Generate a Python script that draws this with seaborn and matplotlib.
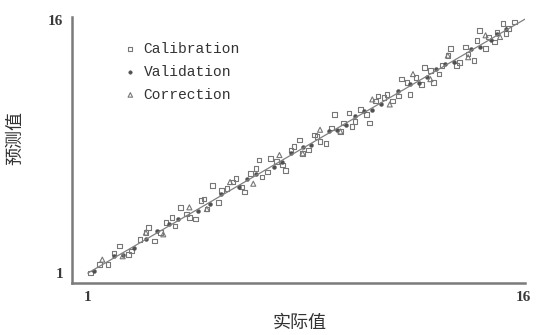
import matplotlib
matplotlib.use("Agg")
import matplotlib.pyplot as plt
import seaborn as sns

# Actual vs. predicted values for the three sample sets
cal_actual = [1.1, 1.4, 1.7, 1.9, 2.1, 2.4, 2.5, 2.8, 3.0, 3.1, 3.3, 3.5, 3.7, 3.9, 4.0, 4.2,
              4.4, 4.5, 4.7, 4.9, 5.0, 5.1, 5.3, 5.5, 5.6, 5.8, 6.0, 6.1, 6.3, 6.4, 6.6, 6.8,
              6.9, 7.0, 7.2, 7.3, 7.5, 7.7, 7.8, 8.0, 8.1, 8.3, 8.4, 8.6, 8.8, 8.9, 9.0, 9.2,
              9.4, 9.5, 9.7, 9.8, 10.0, 10.1, 10.2, 10.4, 10.6, 10.7, 10.9, 11.0, 11.2, 11.3,
              11.5, 11.7, 11.8, 12.0, 12.1, 12.3, 12.5, 12.6, 12.8, 12.9, 13.1, 13.2, 13.4,
              13.5, 13.7, 13.8, 14.0, 14.1, 14.3, 14.4, 14.5, 14.7, 14.8, 15.0, 15.1, 15.3,
              15.4, 15.5, 15.7]
cal_pred = [1.0, 1.5, 1.5, 2.2, 2.6, 2.1, 2.3, 3.0, 3.4, 3.7, 2.9, 3.4, 4.0, 4.3, 3.8, 4.9,
            4.5, 4.3, 4.2, 5.3, 5.4, 4.8, 6.2, 5.2, 5.9, 6.0, 6.4, 6.6, 6.1, 5.8, 6.9, 7.2,
            7.7, 6.7, 7.0, 7.8, 7.6, 7.4, 7.1, 8.3, 8.5, 8.9, 8.1, 8.3, 9.2, 9.1, 8.8, 8.7,
            9.6, 10.4, 9.4, 9.9, 10.5, 9.7, 10.0, 10.7, 10.4, 9.9, 11.2, 11.5, 11.4, 11.6,
            11.2, 11.5, 12.5, 12.3, 11.6, 12.6, 12.2, 13.2, 13.0, 12.3, 12.8, 13.3, 13.9,
            14.3, 13.3, 13.5, 14.4, 14.0, 13.6, 14.8, 15.4, 14.3, 15.0, 14.7, 15.3, 15.8,
            15.2, 15.5, 15.9]

val_actual = [1.2, 1.9, 2.2, 2.6, 3.0, 3.4, 3.8, 4.1, 4.8, 5.2, 5.6, 6.2, 6.5, 6.8, 7.4,
              7.7, 8.0, 8.4, 8.7, 9.3, 9.6, 9.9, 10.2, 10.5, 10.8, 11.1, 11.7, 12.1, 12.4,
              12.7, 13.0, 13.3, 13.6, 14.2, 14.5, 14.9, 15.1, 15.4]
val_pred = [1.1, 2.0, 2.1, 2.5, 3.0, 3.5, 3.9, 4.2, 4.7, 5.1, 5.7, 6.1, 6.6, 6.9, 7.3,
            7.6, 8.1, 8.5, 8.6, 9.4, 9.5, 9.8, 10.3, 10.6, 10.7, 11.0, 11.8, 12.2, 12.3,
            12.6, 13.1, 13.4, 13.5, 14.3, 14.4, 14.8, 15.2, 15.5]

cor_actual = [1.5, 2.2, 3.0, 3.6, 4.5, 5.1, 5.9, 6.7, 7.6, 8.4, 9.0, 9.7, 10.8, 11.4, 12.2,
              12.8, 13.4, 14.1, 14.7, 15.2]
cor_pred = [1.8, 2.0, 3.4, 3.3, 4.9, 4.8, 6.4, 6.3, 8.0, 8.1, 9.5, 9.4, 11.3, 11.0, 12.8,
            12.5, 13.9, 13.8, 15.1, 15.0]

series_names = ["Calibration", "Validation", "Correction"]
tick_values = [1, 16]
x_label = "实际值"
y_label = "预测值"

sns.set_theme(style="white")
plt.rcParams["font.family"] = ["Noto Sans CJK SC", "DejaVu Sans"]

fig = plt.figure(figsize=(5.36, 3.35), dpi=100)
ax = fig.add_axes([0.134, 0.155, 0.845, 0.794])

grey = "#777777"

# 1:1 reference line
sns.lineplot(x=[1.0, 16.15], y=[1.0, 16.15], ax=ax, color="#808080", linewidth=0.9)

sns.scatterplot(x=cal_actual, y=cal_pred, ax=ax, marker="s", s=11,
                facecolor="none", edgecolor=grey, linewidth=0.8, label=series_names[0])
sns.scatterplot(x=val_actual, y=val_pred, ax=ax, marker="o", s=8,
                color="#505050", edgecolor="#505050", linewidth=0.3, label=series_names[1])
sns.scatterplot(x=cor_actual, y=cor_pred, ax=ax, marker="^", s=13,
                facecolor="none", edgecolor=grey, linewidth=0.8, label=series_names[2])

ax.set_xlim(0.45, 16.05)
ax.set_ylim(0.41, 16.18)
ax.set_xticks(tick_values)
ax.set_yticks(tick_values)
ax.set_xticklabels([str(v) for v in tick_values], family="Liberation Serif",
                   fontsize=11, fontweight="bold")
ax.set_yticklabels([str(v) for v in tick_values], family="Liberation Serif",
                   fontsize=11, fontweight="bold")
ax.tick_params(axis="both", length=2, width=1, color=grey, pad=4, labelcolor="#3a3a3a")

for side in ("top", "right"):
    ax.spines[side].set_visible(False)
for side in ("left", "bottom"):
    ax.spines[side].set_color("#7a7a7a")
    ax.spines[side].set_linewidth(1.8)

ax.set_xlabel("")
ax.set_ylabel("")
fig.text(0.56, 0.035, x_label, ha="center", va="center", fontsize=13, color="#333333")
fig.text(0.028, 0.588, y_label, ha="center", va="center", rotation=90, fontsize=13,
         color="#333333")

leg = ax.legend(loc="upper left", bbox_to_anchor=(0.097, 0.935), frameon=False,
                prop={"family": "Liberation Mono", "size": 10.5},
                borderpad=0, handlelength=1.0, handletextpad=0.4, labelspacing=0.62,
                markerscale=0.9)
for t in leg.get_texts():
    t.set_color("#333333")

fig.savefig("out.png", dpi=100)
